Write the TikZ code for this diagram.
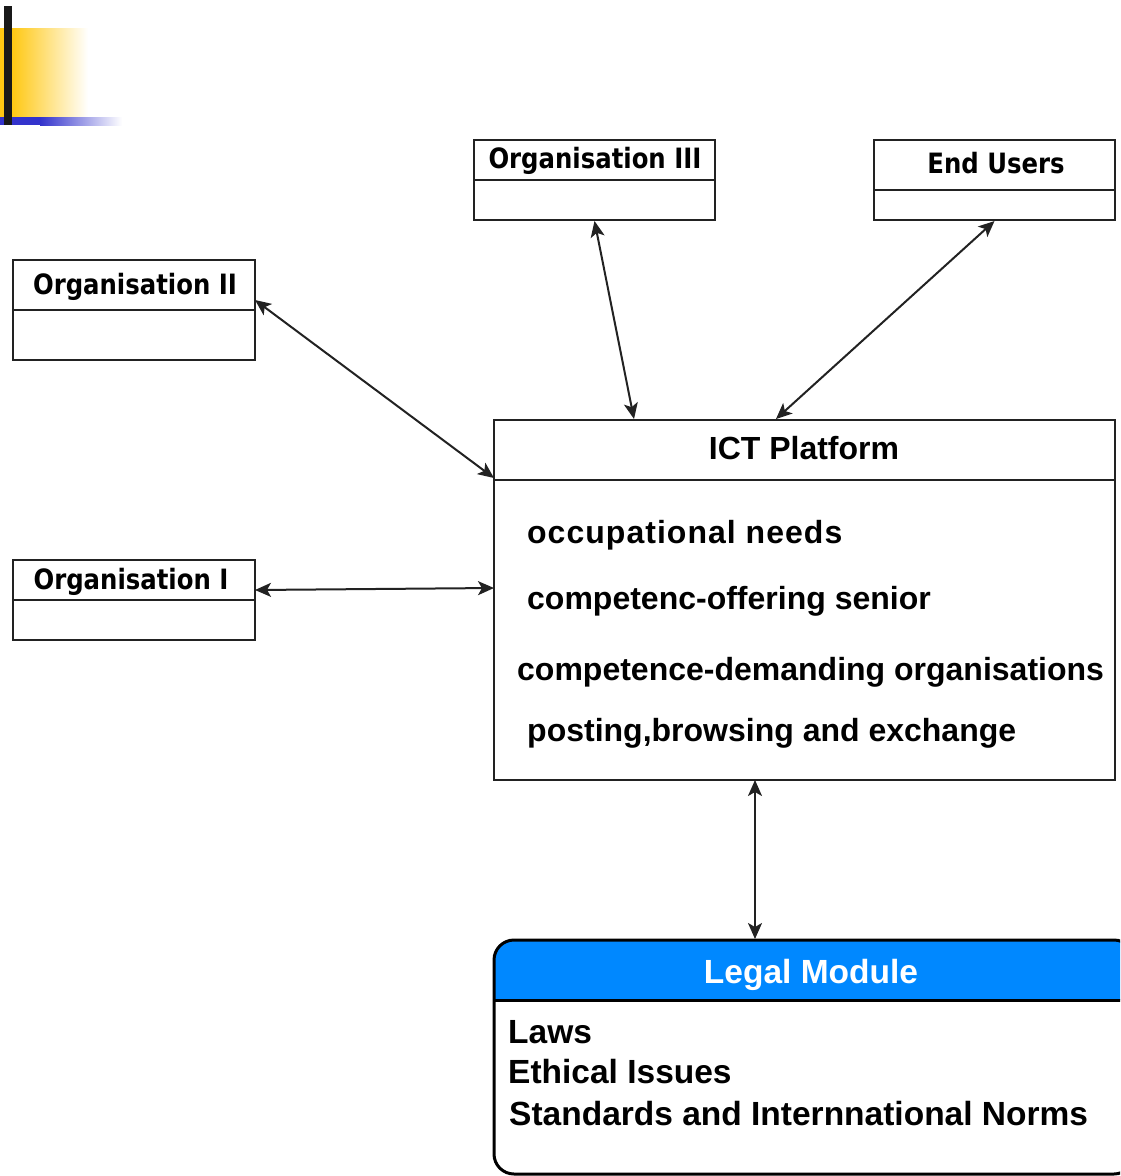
\documentclass[tikz,border=0pt]{standalone}
\usepackage{fontspec}
\setmainfont{Liberation Sans}
\newfontfamily\orgfont{DejaVu Sans}[FakeStretch=0.87]
\newfontfamily\spacedfont{Liberation Sans}[LetterSpace=3.2]
\usetikzlibrary{arrows.meta,calc}
\definecolor{ydeco}{HTML}{FFC813}
\definecolor{bdeco}{HTML}{3333CC}
\definecolor{hdr}{HTML}{0088FF}
\definecolor{ln}{HTML}{222222}
\begin{document}
\begin{tikzpicture}[x=1pt,y=-1pt,
  box/.style={draw=ln,line width=2.2pt,inner sep=0pt,outer sep=0pt,anchor=north west},
  divider/.style={draw=ln,line width=2.2pt},
  conn/.style={line width=2pt,draw=ln,
    {Stealth[length=16pt,width=14pt,inset=4pt]}-{Stealth[length=16pt,width=14pt,inset=4pt]}},
  orgtitle/.style={font=\orgfont\bfseries\fontsize{28}{32}\selectfont,anchor=base,inner sep=0pt,text=black},
  ictline/.style={font=\bfseries\fontsize{32}{36}\selectfont,anchor=base west,inner sep=0pt,text=black},
  legline/.style={font=\bfseries\fontsize{33.5}{38}\selectfont,anchor=base west,inner sep=0pt,text=black},
]
\useasboundingbox (0,0) rectangle (1120,1176);
\clip (0,0) rectangle (1120,1176);

% decoration top-left
\fill[ydeco] (0,28) rectangle (12,117);
\shade[left color=ydeco,right color=white] (12,28) rectangle (88,117);
\fill[bdeco] (0,117) rectangle (40,125);
\shade[left color=bdeco,right color=white] (40,117) rectangle (122,125);
\fill[black!90] (4,6) rectangle (12,125);

% Organisation III
\node[box,minimum width=241pt,minimum height=80pt] (org3) at (474,140) {};
\draw[divider] ([yshift=-40pt]org3.north west) -- ([yshift=-40pt]org3.north east);
\node[orgtitle] (org3t) at (595,168) {Organisation III};

% End Users
\node[box,minimum width=241pt,minimum height=80pt] (eu) at (874,140) {};
\draw[divider] ([yshift=-50pt]eu.north west) -- ([yshift=-50pt]eu.north east);
\node[orgtitle] (eut) at (996,173) {End Users};

% Organisation II
\node[box,minimum width=242pt,minimum height=100pt] (org2) at (13,260) {};
\draw[divider] ([yshift=-50pt]org2.north west) -- ([yshift=-50pt]org2.north east);
\node[orgtitle] (org2t) at (135,294) {Organisation II};

% Organisation I
\node[box,minimum width=242pt,minimum height=80pt] (org1) at (13,560) {};
\draw[divider] ([yshift=-40pt]org1.north west) -- ([yshift=-40pt]org1.north east);
\node[orgtitle] (org1t) at (131,589) {Organisation I};

% ICT Platform
\node[box,minimum width=621pt,minimum height=360pt] (ict) at (494,420) {};
\draw[divider] ([yshift=-60pt]ict.north west) -- ([yshift=-60pt]ict.north east);
\node[ictline,anchor=base] (ictt) at (804,459) {ICT Platform};
\node[ictline,font=\spacedfont\bfseries\fontsize{32}{36}\selectfont] (i1) at (527,543) {occupational needs};
\node[ictline] (i2) at (527,609) {competenc-offering senior};
\node[ictline] (i3) at (517,680) {competence-demanding organisations};
\node[ictline] (i4) at (527,741) {posting,browsing and exchange};

% Legal Module
\node[draw=black,line width=3pt,rounded corners=20pt,inner sep=0pt,outer sep=0pt,anchor=north west,
  minimum width=640pt,minimum height=234pt,
  path picture={\fill[hdr,sharp corners] (path picture bounding box.north west) rectangle ([yshift=-60pt]path picture bounding box.north east);}]
  (legal) at (494,940) {};
\draw[draw=black,line width=3pt] ([yshift=-60pt]legal.north west) -- ([yshift=-60pt]legal.north east);
\node[legline,anchor=base,text=white] (legt) at (811,983) {Legal Module};
\node[legline] (l1) at (508,1043) {Laws};
\node[legline] (l2) at (508,1083) {Ethical Issues};
\node[legline] (l3) at (509,1125) {Standards and Internnational Norms};

% connectors
\coordinate (c2a) at ([yshift=-40pt]org2.north east);
\coordinate (c2b) at ([yshift=-58pt]ict.north west);
\draw[conn] (c2a) -- (c2b);
\coordinate (c3b) at ([xshift=140pt]ict.north west);
\draw[conn] ([yshift=-1pt]org3.south) -- ([yshift=1pt]c3b);
\coordinate (ceb) at ([xshift=282pt]ict.north west);
\draw[conn] ([yshift=-1pt]eu.south) -- ([yshift=1pt]ceb);
\coordinate (c1a) at ([yshift=-30pt]org1.north east);
\coordinate (c1b) at ([yshift=-168pt]ict.north west);
\draw[conn] (c1a) -- (c1b);
\coordinate (cla) at ([xshift=261pt]ict.south west);
\coordinate (clb) at ([xshift=261pt]legal.north west);
\draw[conn] (cla) -- ([yshift=1pt]clb);
\end{tikzpicture}
\end{document}
